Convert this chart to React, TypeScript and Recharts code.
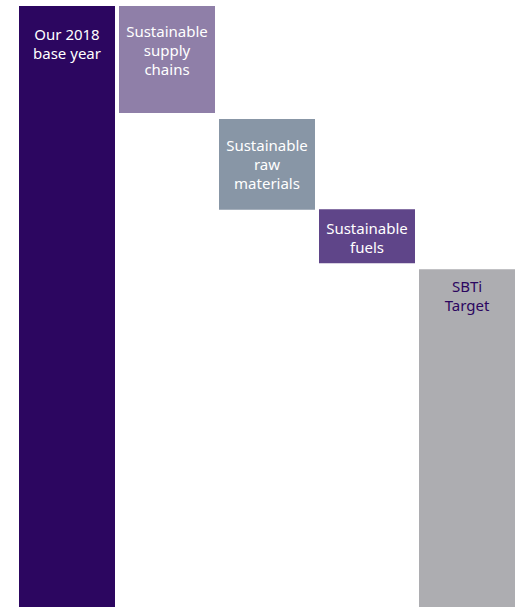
import { BarChart, Bar, XAxis, YAxis, Cell, LabelList } from 'recharts';

// Waterfall: emission reduction steps from the 2018 base year to the SBTi target

const categories = [
  'Our 2018 base year',
  'Sustainable supply chains',
  'Sustainable raw materials',
  'Sustainable fuels',
  'SBTi Target',
];

// bottom and top of each step (base year = 100)
const rangeLow = [0, 82.2, 66.1, 57.2, 0];
const rangeHigh = [100, 100, 81.2, 66.2, 56.2];

const labelLines: string[][] = [
  ['Our 2018', 'base year'],
  ['Sustainable', 'supply', 'chains'],
  ['Sustainable', 'raw', 'materials'],
  ['Sustainable', 'fuels'],
  ['SBTi', 'Target'],
];

// styling
const barColors = ['#2c0660', '#8f7fa8', '#8896a6', '#5f4589', '#adadb1'];
const textColors = ['#ffffff', '#ffffff', '#ffffff', '#ffffff', '#2c0660'];
const labelTopPad = [34, 31, 32, 25, 23];

const data = categories.map((name, i) => ({
  name,
  offset: rangeLow[i],
  step: rangeHigh[i] - rangeLow[i],
}));

function StepLabel(props: any) {
  const { x, y, width, value } = props;
  const i = categories.indexOf(value);
  if (i < 0) return null;
  const cx = Number(x) + Number(width) / 2;
  return (
    <text
      x={cx}
      y={Number(y) + labelTopPad[i]}
      textAnchor="middle"
      fill={textColors[i]}
      fontSize={15}
      fontFamily="'Noto Sans', 'Open Sans', sans-serif"
    >
      {labelLines[i].map((line, k) => (
        <tspan key={k} x={cx} dy={k === 0 ? 0 : 18.8}>
          {line}
        </tspan>
      ))}
    </text>
  );
}

export default function App() {
  return (
    <div style={{ position: 'absolute', left: 0, top: 0, background: '#ffffff' }}>
      <BarChart
        width={518}
        height={607}
        data={data}
        margin={{ top: 6, right: 1, bottom: 0, left: 17 }}
        barCategoryGap={2}
      >
        <XAxis dataKey="name" hide />
        <YAxis domain={[0, 100]} hide />
        <Bar dataKey="offset" stackId="w" fill="transparent" isAnimationActive={false} />
        <Bar dataKey="step" stackId="w" isAnimationActive={false}>
          {data.map((d, i) => (
            <Cell key={d.name} fill={barColors[i]} />
          ))}
          <LabelList dataKey="name" content={<StepLabel />} />
        </Bar>
      </BarChart>
    </div>
  );
}
